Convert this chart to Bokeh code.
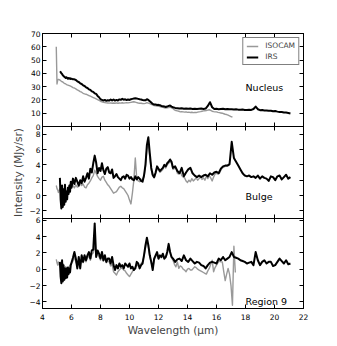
import numpy as np
from bokeh.plotting import figure
from bokeh.models import Range1d, FixedTicker, LinearAxis, Label
from bokeh.layouts import column
from bokeh.embed import file_html
from bokeh.resources import INLINE

nan = float("nan")

# ---------------- data ----------------
x_ticks = [4, 6, 8, 10, 12, 14, 16, 18, 20, 22]
y1_ticks = [0, 10, 20, 30, 40, 50, 60, 70]
y1_labels = ["0", "10", "20", "30", "40", "50", "60", "70"]
y2_ticks = [-2, 0, 2, 4, 6, 8]
y2_labels = ["\u22122", "0", "2", "4", "6", "8"]
y3_ticks = [-4, -2, 0, 2, 4, 6]
y3_labels = ["\u22124", "\u22122", "0", "2", "4", "6"]

# ISOCAM wavelength grid (micron)
lam_iso = [4.95, 5.0, 5.05,
           5.1, 5.2, 5.3, 5.4, 5.5, 5.6, 5.7, 5.8, 5.9,
           6.0, 6.1, 6.2, 6.3, 6.4, 6.5, 6.6, 6.7, 6.8, 6.9,
           7.0, 7.1, 7.2, 7.3, 7.4, 7.5, 7.6, 7.7, 7.8, 7.9,
           8.0, 8.1, 8.2, 8.3, 8.4, 8.5, 8.6, 8.7, 8.8, 8.9,
           9.0, 9.1, 9.2, 9.3, 9.4, 9.5, 9.6, 9.7, 9.8, 9.9,
           10.0, 10.1, 10.2, 10.3, 10.4, 10.5, 10.6, 10.7, 10.8, 10.9,
           11.0, 11.1, 11.2, 11.3, 11.4, 11.5, 11.6, 11.7, 11.8, 11.9,
           12.0, 12.1, 12.2, 12.3, 12.4, 12.5, 12.6, 12.7, 12.8, 12.9,
           13.0, 13.1, 13.2, 13.3, 13.4, 13.5, 13.6, 13.7, 13.8, 13.9,
           14.0, 14.1, 14.2, 14.3, 14.4, 14.5, 14.6, 14.7, 14.8, 14.9,
           15.0, 15.1, 15.2, 15.3, 15.4, 15.5, 15.6, 15.7, 15.8, 15.9,
           16.0, 16.1, 16.2, 16.3, 16.4, 16.5, 16.6, 16.7, 16.8, 16.9,
           17.0, 17.1, 17.2, 17.3]

nuc_iso = [60, 32, 35,
           35.5, 35, 34, 33.5, 32.5, 32, 31.3, 31, 30.5,
           30, 29.3, 29, 28.3, 27.5, 27, 26.3, 25.8, 25, 24.6,
           24.3, 23.8, 23.3, 22.8, 22.3, 21.8, 21.3, 20.8, 20.2, 19.6,
           19, 18.5, 18.2, 18, 17.8, 17.7, 17.6, 17.8, 17.5, 17.7,
           17.5, 17.8, 17.5, 17.7, 17.6, 17.9, 17.6, 17.8, 18, 17.8,
           18, 18.2, 18.4, 18.6, 18.3, 18, 17.7, 17.5, 17.5, 17.3,
           17.2, 17.4, 17.9, 17.6, 17.2, 16.7, 16.2, 15.8, 15.5, 15.3,
           15.2, 15, 14.7, 14.5, 14, 13.8, 14, 14.2, 14.5, 14,
           13.5, 12.5, 12, 11.8, 11.5, 11, 11.2, 11, 10.8, 11,
           10.6, 10.8, 10.5, 10.7, 10.4, 10.6, 10.5, 10.8, 11, 11.2,
           11.5, 11.8, 11.9, 12, 12.3, 12.6, 12.2, 11.5, 11.2, 11,
           11, 10.6, 10.4, 10.2, 10, 9.6, 9.2, 9, 8.5, 8,
           7.5, 7, nan, nan]

blg_iso = [1.3, 0.9, 0.7,
           0.4, 0.9, 0.2, 0.5, 0.1, 0.4, 0.7, 0.5, 0.9,
           1.1, 1.3, 1.0, 1.4, 1.1, 1.2, 1.5, 1.3, 1.5, 1.1,
           1.0, 1.4, 1.6, 1.9, 2.3, 2.6, 3.3, 2.9, 2.5, 2.2,
           2.0, 2.4, 2.5, 2.0, 1.7, 1.4, 1.2, 0.9, 0.6, 0.3,
           0.4, 0.5, 0.8, 1.1, 1.2, 1.0, 0.9, 0.6, 0.3, 0.0,
           -0.6, -1.1, 0.3, 2.0, 4.9, 2.2, 1.9, 1.8, 2.0, 2.2,
           2.4, 3.8, 6.0, 6.8, 5.0, 3.3, 2.5, 2.3, 2.8, 3.5,
           3.3, 3.0, 3.2, 3.4, 3.8, 3.6, 4.0, 4.2, 4.5, 4.2,
           3.4, 3.5, 3.6, 2.9, 2.8, 3.2, 2.6, 2.4, 2.3, 1.9,
           1.7, 2.0, 1.8, 2.2, 1.9, 2.1, 2.3, 2.0, 2.2, 2.4,
           2.1, 2.3, 2.0, 2.5, 2.2, 2.6, 2.3, 1.9, 2.4, 2.8,
           2.9, 2.8, 2.9, 3.3, 3.6, 3.7, 3.8, 3.8, 3.9, 4.0,
           nan, nan, nan, nan]

r9_iso = [1.2, 0.8, 0.5,
          0.9, 0.3, 0.6, 0.7, -0.2, 0.3, 0.1, 0.2, 0.5,
          0.7, 1.0, 1.5, 0.9, 0.5, 1.0, 0.6, 1.2, 0.8, 1.3,
          0.9, 1.4, 1.6, 1.1, 1.8, 2.0, 3.0, 1.8, 1.8, 1.5,
          1.1, 1.6, 1.0, 1.3, 0.8, 1.0, 0.9, 0.4, 0.6, -0.3,
          -0.5, -0.7, -0.3, -0.1, 0.1, 0.1, -0.1, -0.2, -0.5, -0.7,
          -0.9, -0.6, -0.3, 0.0, 0.3, 0.4, 0.5, 0.4, 0.7, 0.9,
          1.6, 2.6, 3.5, 2.7, 1.5, 0.8, 0.1, 1.1, 1.5, 1.9,
          1.2, 1.5, 1.4, 1.7, 1.2, 1.4, 1.9, 2.7, 2.0, 1.4,
          1.1, 0.6, 0.3, 0.9, 0.1, 0.4, 0.3, 0.0, -0.1, -0.3,
          0.0, 0.1, -0.1, -0.1, 0.1, 0.3, 0.2, 0.0, -0.1, -0.2,
          -0.3, -0.4, -0.5, -0.6, -0.2, 0.1, 0.6, 1.1, -0.3, 0.2,
          0.5, 0.8, 1.0, 0.9, 0.9, -0.3, -1.4, -0.6, 0.1, -0.6,
          -2.0, -4.4, 2.8, -0.4]

# IRS wavelength grid (micron)
lam_irs = [5.2, 5.25, 5.3, 5.35, 5.4, 5.45, 5.5, 5.55, 5.6, 5.65, 5.7, 5.75, 5.8, 5.85, 5.9, 5.95,
           6.0, 6.1, 6.2, 6.3, 6.4, 6.5, 6.6, 6.7, 6.8, 6.9,
           7.0, 7.1, 7.2, 7.3, 7.4, 7.5, 7.6, 7.7, 7.8, 7.9,
           8.0, 8.1, 8.2, 8.3, 8.4, 8.5, 8.6, 8.7, 8.8, 8.9,
           9.0, 9.1, 9.2, 9.3, 9.4, 9.5, 9.6, 9.7, 9.8, 9.9,
           10.0, 10.1, 10.2, 10.3, 10.4, 10.5, 10.6, 10.7, 10.8, 10.9,
           11.0, 11.1, 11.2, 11.3, 11.4, 11.5, 11.6, 11.7, 11.8, 11.9,
           12.0, 12.1, 12.2, 12.3, 12.4, 12.5, 12.6, 12.7, 12.8, 12.9,
           13.0,
           13.15, 13.3, 13.45, 13.6, 13.75, 13.9, 14.05, 14.2, 14.35,
           14.5, 14.65, 14.8, 14.95, 15.1, 15.25, 15.4, 15.55, 15.7,
           15.85, 16.0, 16.15, 16.3, 16.45, 16.6, 16.75, 16.9, 17.05,
           17.2, 17.35, 17.5, 17.65, 17.8, 17.95, 18.1, 18.25, 18.4,
           18.55, 18.7, 18.85, 19.0, 19.15, 19.3, 19.45, 19.6, 19.75,
           19.9, 20.05, 20.2, 20.35, 20.5, 20.65, 20.8, 20.95, 21.1]

nuc_irs = [41.5, 41, 40, 39.5, 38.5, 38, 37.5, 37, 36.5, 37, 36.5, 36, 36.5, 36, 36.3, 35.8,
           36, 35.5, 35.5, 35, 34, 33.5, 32.5, 32, 31, 30.5,
           29.5, 29, 28, 27.5, 26.5, 26, 25, 24.5, 23, 22,
           20.5, 20, 19.5, 20, 19.3, 19.8, 19.5, 20.3, 19.6, 20.3,
           19.5, 20, 19.6, 20.4, 20.1, 20.8, 20.2, 20.5, 19.9, 20.3,
           20, 20.5, 20.8, 21, 21.2, 21, 20.8, 20.5, 20.3, 20,
           19.8, 19.7, 20.5, 20, 19, 18, 17, 16.6, 16.5, 16.2,
           16.3, 16, 15.5, 15.3, 15, 14.7, 15, 15.5, 15.8, 15,
           14.5,
           14, 13.8, 13.5, 13.8, 13.4, 13.6, 13.3, 13.5, 13.2,
           13.4, 13.1, 13.3, 13.5, 13.2, 13.5, 15.5, 18.3, 14.5,
           13.2, 13.3, 13, 13.2, 13.4, 13, 13.1, 12.9, 13,
           12.8, 12.9, 12.7, 12.6, 12.8, 12.5, 12.4, 12.6, 12.5,
           13.2, 15, 13, 12.3, 12.4, 12, 12.1, 11.8, 11.9,
           11.5, 11.6, 11.2, 11, 10.9, 10.6, 10.5, 10.2, 9.8]

blg_irs = [2.3, -0.5, -1.7, 1.3, -1.5, 0.8, -1.2, 1.4, -0.8, 0.5, -0.5, 1.0, 0.2, 1.3, 0.5, 1.8,
           1.0, 2.2, 1.5, 2.3, 1.8, 1.3, 2.0, 1.6, 2.5, 1.8,
           2.3, 2.9, 2.2, 3.5, 3.0, 4.2, 5.2, 4.3, 2.9, 3.6,
           3.2, 4.2, 3.3, 2.8, 3.5, 3.7, 3.0, 2.9, 3.4, 2.3,
           2.5, 2.8, 2.4, 2.2, 2.0, 2.4, 2.5, 2.2, 2.7, 2.6,
           2.2, 2.4, 2.1, 2.0, 2.5, 2.1, 2.4, 2.2, 1.9, 1.8,
           2.6, 4.0, 6.6, 7.6, 5.5, 3.6, 2.7, 2.4, 3.0, 3.8,
           3.5, 3.2, 3.4, 3.6, 4.0, 3.8, 4.2, 4.4, 4.7, 4.4,
           3.6,
           3.8, 3.2, 2.9, 3.6, 2.5, 3.0, 3.4, 3.6, 2.9,
           2.6, 2.4, 2.6, 2.4, 2.6, 2.7, 2.5, 2.9, 2.7,
           3.0, 3.1, 2.9, 3.5, 3.8, 3.9, 3.9, 4.1, 7.0,
           4.9, 4.4, 3.9, 3.4, 2.9, 2.6, 2.5, 2.6, 2.4,
           2.5, 2.3, 2.6, 2.2, 2.5, 2.3, 2.2, 1.9, 2.5,
           2.4, 2.0, 2.5, 2.6, 2.1, 2.4, 2.7, 2.2, 2.4]

r9_irs = [0.9, -0.9, -1.7, 1.1, -1.5, 0.5, -1.3, 0.1, -1.1, 0.1, -1.0, 0.2, -0.6, 0.1, -0.4, 0.5,
          0.8, 1.4, 2.1, 1.3, 0.1, 1.5, 0.1, 1.7, 0.9, 1.7,
          1.1, 1.7, 2.1, 1.3, 2.3, 2.4, 5.6, 1.5, 2.3, 1.9,
          1.3, 2.1, 1.1, 1.7, 0.9, 1.3, 1.3, 0.7, 1.5, 0.5,
          -0.1, 0.5, 0.1, 0.7, 0.3, 0.5, 0.1, 0.7, 0.5, 0.3,
          0.7, 0.1, 0.3, -0.1, 0.1, 0.9, 0.7, 0.1, 0.5, 0.7,
          1.7, 2.9, 3.85, 2.95, 1.7, 0.9, -0.1, 1.3, 1.7, 2.1,
          1.3, 1.7, 1.5, 1.9, 1.3, 1.5, 2.1, 3.1, 2.1, 1.5,
          1.3,
          0.9, 1.2, 1.3, 1.0, 1.7, 1.1, 0.9, 1.3, 1.0,
          0.7, 0.9, 0.8, 0.5, 0.4, 0.1, 0.5, 0.8, 0.9,
          0.8, 0.7, 1.3, 1.1, 1.5, 1.1, 1.3, 1.5, 2.1,
          1.5, 1.4, 1.3, 1.1, 1.0, 0.9, 0.7, 0.8, 0.9,
          0.5, 2.1, 1.1, 0.5, 0.9, 1.1, 0.7, 0.9, 0.9,
          0.4, 0.5, 0.9, 1.3, 1.0, 0.7, 1.1, 0.6, 0.7]

# ---------------- styling ----------------
FONT = "DejaVu Sans"
GRAY = "#999999"
W = 327
TICK_FS = "7.5px"


def style_axis(ax, ticks, show_labels, overrides=None):
    ax.ticker = FixedTicker(ticks=ticks)
    ax.major_tick_in = 4
    ax.major_tick_out = 0
    ax.minor_tick_line_color = None
    ax.axis_line_color = "black"
    ax.major_tick_line_color = "black"
    ax.major_label_text_font = FONT
    if show_labels:
        ax.major_label_text_font_size = TICK_FS
        ax.major_label_text_color = "black"
    else:
        ax.major_label_text_font_size = "1px"
        ax.major_label_text_color = None
        ax.major_label_standoff = 0
    if overrides:
        ax.major_label_overrides = overrides


def make_fig(height, yr, yticks, ylabels, top, bottom, xlabels):
    p = figure(width=W, height=height, x_range=Range1d(4, 22), y_range=Range1d(*yr),
               output_backend="svg", toolbar_location=None, title=None,
               min_border_left=42, min_border_right=24,
               min_border_top=top, min_border_bottom=bottom)
    p.background_fill_alpha = 0
    p.border_fill_alpha = 0
    p.outline_line_color = "black"
    p.xgrid.visible = False
    p.ygrid.visible = False
    bottom_ax = p.below[0]
    left_ax = p.left[0]
    style_axis(bottom_ax, x_ticks, xlabels)
    if xlabels:
        bottom_ax.major_label_standoff = 5
    style_axis(left_ax, yticks, True, {t: l for t, l in zip(yticks, ylabels)})
    left_ax.major_label_standoff = 2
    top_ax = LinearAxis()
    style_axis(top_ax, x_ticks, False)
    p.add_layout(top_ax, "above")
    right_ax = LinearAxis()
    style_axis(right_ax, yticks, False)
    p.add_layout(right_ax, "right")
    return p, bottom_ax, left_ax


def add_label(p, x, y, text):
    p.add_layout(Label(x=x, y=y, text=text, text_font=FONT, text_font_size="9.5px",
                       text_baseline="alphabetic", text_color="black"))


# Panel 1: Nucleus
p1, _, _ = make_fig(132, (0, 70), y1_ticks, y1_labels, 33, 6, False)
p1.line(lam_iso, nuc_iso, line_color=GRAY, line_width=1.4, line_join="round", legend_label="ISOCAM")
p1.line(lam_irs, nuc_irs, line_color="black", line_width=2, line_join="round", legend_label="IRS")
lg = p1.legend[0]
lg.location = "top_right"
lg.margin = 4
lg.padding = 3
lg.spacing = 2
lg.glyph_width = 12
lg.glyph_height = 8
lg.label_height = 8
lg.label_standoff = 7
lg.label_text_font = FONT
lg.label_text_font_size = "7.5px"
lg.border_line_color = "black"
lg.border_line_width = 1
lg.background_fill_color = "white"
lg.background_fill_alpha = 1
add_label(p1, 18.0, 29.4, "Nucleus")

# Panel 2: Bulge
p2, _, left2 = make_fig(104, (-3, 9), y2_ticks, y2_labels, 6, 6, False)
p2.line(lam_iso, blg_iso, line_color=GRAY, line_width=1.4, line_join="round")
p2.line(lam_irs, blg_irs, line_color="black", line_width=2, line_join="round")
left2.axis_label = "Intensity (MJy/sr)"
left2.axis_label_text_font = FONT
left2.axis_label_text_font_size = "10.5px"
left2.axis_label_text_font_style = "normal"
left2.axis_label_standoff = 2
add_label(p2, 18.0, -0.13, "Bulge")
p2.margin = (-12, 0, 0, 0)

# Panel 3: Region 9
p3, bottom3, _ = make_fig(126, (-4.8, 6.2), y3_ticks, y3_labels, 6, 28, True)
p3.line(lam_iso, r9_iso, line_color=GRAY, line_width=1.4, line_join="round")
p3.line(lam_irs, r9_irs, line_color="black", line_width=2, line_join="round")
bottom3.axis_label = "Wavelength (\u03bcm)"
bottom3.axis_label_text_font = FONT
bottom3.axis_label_text_font_size = "10.5px"
bottom3.axis_label_text_font_style = "normal"
bottom3.axis_label_standoff = 1
add_label(p3, 18.0, -3.96, "Region 9")
p3.margin = (-12, 0, 0, 0)

layout = column(p1, p2, p3, spacing=0)

with open("out.html", "w") as f:
    f.write(file_html(layout, INLINE))
